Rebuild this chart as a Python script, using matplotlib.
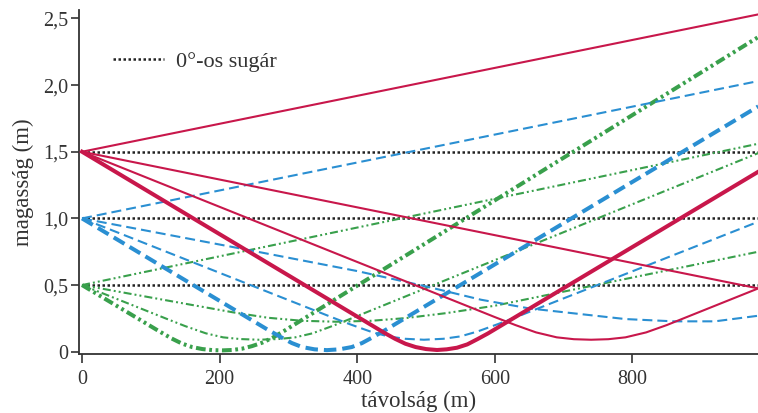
import matplotlib
matplotlib.use("Agg")
import matplotlib.pyplot as plt

plt.rcParams['font.family'] = ['Liberation Serif', 'DejaVu Serif']
plt.rcParams['lines.scale_dashes'] = False

# ---- data ----
x_ticks = [0, 200, 400, 600, 800]
y_ticks = [0, 0.5, 1.0, 1.5, 2.0, 2.5]
y_ticklabels = ["0", "0,5", "1,0", "1,5", "2,0", "2,5"]
x_end = 983

# 0° rays (horizontal)
zero_heights = [1.5, 1.0, 0.5]

# red – source height 1.5 m
red_up_x = [0, 983]
red_up_y = [1.5, 2.53]
red_a_x = [0, 983]
red_a_y = [1.5, 0.475]
red_b_x = [0, 600, 630, 660, 690, 715, 740, 765, 790, 820, 850, 880, 983]
red_b_y = [1.5, 0.26, 0.2, 0.145, 0.108, 0.094, 0.09, 0.094, 0.108, 0.145, 0.2, 0.262, 0.475]
red_c_x = [0, 440, 455, 470, 485, 500, 516, 530, 545, 560, 575, 590, 983]
red_c_y = [1.5, 0.14, 0.097, 0.06, 0.035, 0.02, 0.013, 0.018, 0.03, 0.055, 0.095, 0.137, 1.35]

# blue – source height 1.0 m
blue_up_x = [0, 983]
blue_up_y = [1.0, 2.03]
blue_a_x = [0, 250, 400, 500, 580, 650, 720, 790, 860, 920, 983]
blue_a_y = [1.0, 0.755, 0.605, 0.49, 0.39, 0.325, 0.285, 0.245, 0.228, 0.228, 0.27]
blue_b_x = [0, 360, 390, 420, 445, 470, 497, 525, 550, 575, 605, 635, 983]
blue_b_y = [1.0, 0.265, 0.205, 0.15, 0.115, 0.097, 0.09, 0.097, 0.115, 0.152, 0.208, 0.268, 0.975]
blue_c_x = [0, 270, 290, 305, 320, 338, 356, 374, 392, 407, 422, 440, 983]
blue_c_y = [1.0, 0.165, 0.107, 0.065, 0.035, 0.018, 0.012, 0.018, 0.035, 0.065, 0.107, 0.16, 1.84]

# green – source height 0.5 m
green_up_x = [0, 983]
green_up_y = [0.5, 1.56]
green_a_x = [0, 150, 220, 270, 320, 370, 420, 470, 530, 600, 983]
green_a_y = [0.5, 0.36, 0.295, 0.255, 0.232, 0.225, 0.232, 0.252, 0.29, 0.345, 0.75]
green_b_x = [0, 120, 150, 180, 205, 230, 257, 285, 310, 335, 365, 395, 983]
green_b_y = [0.5, 0.253, 0.192, 0.138, 0.108, 0.095, 0.09, 0.095, 0.108, 0.138, 0.195, 0.257, 1.49]
green_c_x = [0, 110, 130, 145, 160, 175, 190, 204, 218, 232, 247, 262, 277, 295, 983]
green_c_y = [0.5, 0.16, 0.1, 0.062, 0.035, 0.02, 0.012, 0.01, 0.013, 0.022, 0.042, 0.068, 0.105, 0.16, 2.36]

# ---- style ----
RED = '#c8174b'
BLUE = '#2a8fd2'
GREEN = '#39a04c'
DOT = '#222222'
thin = 1.5
thick = 2.9
dash_thin = (0, (7.2, 3.6))
dash_thick = (0, (9.0, 4.3))
dd_thin = (0, (5.8, 2.2, 1.4, 2.2, 1.4, 2.2))
dd_thick = (0, (7.0, 2.6, 2.0, 2.6, 2.0, 2.6))

fig = plt.figure(figsize=(7.58, 4.13), dpi=100)
ax = fig.add_axes([79/758, 59/413, 679/758, 344/413])

for i, h in enumerate(zero_heights):
    ax.plot([0, x_end], [h, h], color=DOT, lw=1.8, linestyle=(0, (1.8, 1.8)),
            label="0°-os sugár" if i == 0 else None, zorder=2)

# green
ax.plot(green_up_x, green_up_y, color=GREEN, lw=thin, linestyle=dd_thin, zorder=3)
ax.plot(green_a_x, green_a_y, color=GREEN, lw=thin, linestyle=dd_thin, zorder=3)
ax.plot(green_b_x, green_b_y, color=GREEN, lw=thin, linestyle=dd_thin, zorder=3)
ax.plot(green_c_x, green_c_y, color=GREEN, lw=thick, linestyle=dd_thick, zorder=3)
# blue
ax.plot(blue_up_x, blue_up_y, color=BLUE, lw=thin, linestyle=dash_thin, zorder=3)
ax.plot(blue_a_x, blue_a_y, color=BLUE, lw=thin, linestyle=dash_thin, zorder=3)
ax.plot(blue_b_x, blue_b_y, color=BLUE, lw=thin, linestyle=dash_thin, zorder=3)
ax.plot(blue_c_x, blue_c_y, color=BLUE, lw=thick, linestyle=dash_thick, zorder=3)
# red
ax.plot(red_up_x, red_up_y, color=RED, lw=thin, zorder=4)
ax.plot(red_a_x, red_a_y, color=RED, lw=thin, zorder=4)
ax.plot(red_b_x, red_b_y, color=RED, lw=thin, zorder=4)
ax.plot(red_c_x, red_c_y, color=RED, lw=thick, zorder=4)

ax.set_xlim(-4.4, 982.6)
ax.set_ylim(-0.017, 2.563)

ax.spines['top'].set_visible(False)
ax.spines['right'].set_visible(False)
for s in ('left', 'bottom'):
    ax.spines[s].set_color('#333333')
    ax.spines[s].set_linewidth(1.3)

ax.set_xticks(x_ticks)
ax.set_xticklabels([str(v) for v in x_ticks])
ax.set_yticks(y_ticks)
ax.set_yticklabels(y_ticklabels)
ax.tick_params(axis='x', direction='out', length=6.5, width=1.2, color='#333333',
               labelsize=14.5, labelcolor='#333333', pad=5)
ax.tick_params(axis='y', direction='out', length=6, width=1.2, color='#333333',
               labelsize=14.5, labelcolor='#333333', pad=2)

ax.set_xlabel("távolság (m)", fontsize=16.5, color='#333333', labelpad=1.5)
ax.set_ylabel("magasság (m)", fontsize=16.5, color='#333333', labelpad=6)

leg = ax.legend(loc='center left', bbox_to_anchor=(0.05, 0.849), frameon=False,
                fontsize=16, handlelength=2.3, handletextpad=0.55,
                borderpad=0, borderaxespad=0)
for t in leg.get_texts():
    t.set_color('#333333')

fig.savefig("out.png", dpi=100)
